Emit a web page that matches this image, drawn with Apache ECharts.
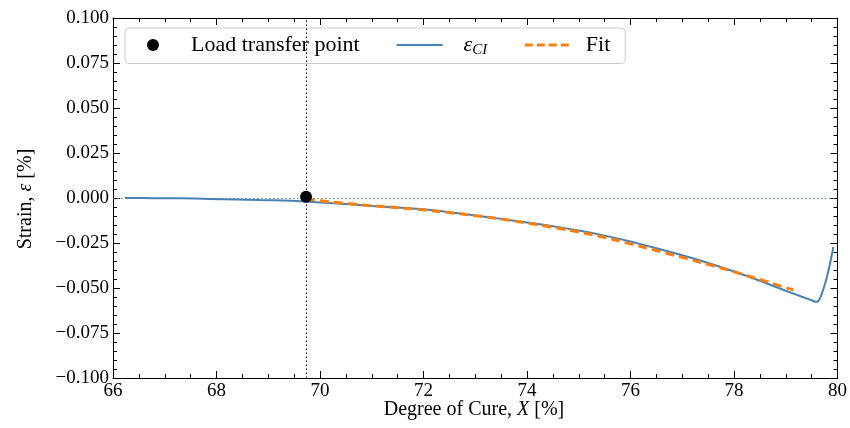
<!DOCTYPE html>
<html>
<head>
<meta charset="utf-8">
<script src="https://cdn.jsdelivr.net/npm/echarts@6/dist/echarts.min.js"></script>
<style>
  html, body { margin: 0; padding: 0; background: #fff; }
  #chart { width: 850px; height: 428px; }
</style>
</head>
<body>
<div id="chart"></div>
<script>
// Measured strain ε_CI against degree of cure X (%)
const cureX = [66.23, 66.8, 67.3, 67.87, 68.4, 68.84, 69.3, 69.61, 70.0, 70.5, 71.0, 71.5, 72.0, 72.5, 73.0, 73.5, 74.0, 74.5, 75.0, 75.5, 76.0, 76.5, 77.0, 77.5, 78.0, 78.5, 79.0, 79.3, 79.5, 79.58, 79.63, 79.67, 79.72, 79.78, 79.85, 79.92];
const strainCI = [0.0, -0.0001, -0.0002, -0.0005, -0.0008, -0.0011, -0.0014, -0.0018, -0.0025, -0.0034, -0.0044, -0.0053, -0.0063, -0.0079, -0.0097, -0.0116, -0.0136, -0.0157, -0.0181, -0.0209, -0.0242, -0.0279, -0.0318, -0.0361, -0.0408, -0.0460, -0.0515, -0.0547, -0.0568, -0.0577, -0.0572, -0.0552, -0.0512, -0.0456, -0.0372, -0.0272];

// Fitted curve after load transfer
const fitX = [69.73, 70.0, 70.5, 71.0, 71.5, 72.0, 72.5, 73.0, 73.5, 74.0, 74.5, 75.0, 75.5, 76.0, 76.5, 77.0, 77.5, 78.0, 78.5, 79.0, 79.15];
const fitStrain = [-0.0005, -0.0015, -0.0030, -0.0043, -0.0054, -0.0066, -0.0081, -0.0098, -0.0117, -0.0139, -0.0163, -0.0189, -0.0219, -0.0255, -0.0292, -0.0330, -0.0369, -0.0410, -0.0453, -0.0498, -0.0511];

// Load transfer point
const loadX = 69.73;
const loadStrain = 0.0007;

// Axis ranges and tick steps
const xRange = [66, 80];
const xStep = 2;
const yRange = [-0.1, 0.1];
const yStep = 0.025;

const FONT = '"Liberation Serif", "DejaVu Serif", serif';
const BLUE = '#4682b4';
const ORANGE = '#ff7f0e';

function pairs(xs, ys) { return xs.map((x, i) => [x, ys[i]]); }
function fmtY(v) {
  const s = Math.abs(v).toFixed(3);
  return (v < -1e-9 ? '\u2212' : '') + s;
}

function axisCommon(extra) {
  return Object.assign({
    type: 'value',
    splitLine: { show: false },
    axisLine: { show: true, onZero: false, lineStyle: { color: '#000', width: 1 } },
    axisTick: { show: true, inside: true, length: 7, lineStyle: { color: '#000', width: 1 } },
    axisLabel: { color: '#000', fontFamily: FONT, fontSize: 19 }
  }, extra);
}

const chart = echarts.init(document.getElementById('chart'), null, { renderer: 'canvas' });

chart.setOption({
  animation: false,
  backgroundColor: '#fff',
  grid: { left: 113, right: 12, top: 18, bottom: 50, containLabel: false },
  xAxis: [
    axisCommon({
      min: xRange[0], max: xRange[1], interval: xStep, position: 'bottom',
      minorTick: { show: true, splitNumber: 4, length: 4, lineStyle: { color: '#000' } },
      axisLabel: { color: '#000', fontFamily: FONT, fontSize: 19, margin: 4 }
    }),
    axisCommon({
      min: xRange[0], max: xRange[1], interval: xStep, position: 'top',
      minorTick: { show: true, splitNumber: 4, length: 4, lineStyle: { color: '#000' } },
      axisLabel: { show: false }
    })
  ],
  yAxis: [
    axisCommon({
      min: yRange[0], max: yRange[1], interval: yStep, position: 'left',
      minorTick: { show: true, splitNumber: 5, length: 4, lineStyle: { color: '#000' } },
      axisLabel: { color: '#000', fontFamily: FONT, fontSize: 19, margin: 4, formatter: fmtY }
    }),
    axisCommon({
      min: yRange[0], max: yRange[1], interval: yStep, position: 'right',
      minorTick: { show: true, splitNumber: 5, length: 4, lineStyle: { color: '#000' } },
      axisLabel: { show: false }
    })
  ],
  legend: {
    left: 125, top: 28,
    orient: 'horizontal',
    backgroundColor: '#fff',
    borderColor: '#cccccc',
    borderWidth: 1,
    borderRadius: 4,
    padding: [6, 15, 6, 22],
    itemWidth: 46,
    itemHeight: 12,
    itemGap: 36,
    data: [
      { name: 'Load transfer point', icon: 'circle', itemStyle: { color: '#000', opacity: 1 } },
      { name: 'eps', icon: 'line', itemStyle: { color: BLUE, borderColor: BLUE, borderWidth: 2 } },
      { name: 'Fit', icon: 'line', itemStyle: { color: ORANGE, borderColor: ORANGE, borderWidth: 3, borderType: [8, 4] } }
    ],
    formatter: function (name) {
      if (name === 'eps') return '{e|\u03b5}{s|CI}';
      if (name === 'Fit') return '{f|Fit}';
      return '{t|' + name + '}';
    },
    textStyle: {
      color: '#000', fontFamily: FONT, fontSize: 22,
      rich: {
        t: { fontFamily: FONT, fontSize: 22, color: '#000', padding: [0, 0, 0, 10] },
        f: { fontFamily: FONT, fontSize: 22, color: '#000', padding: [0, 0, 0, 10] },
        e: { fontFamily: FONT, fontSize: 22, fontStyle: 'italic', color: '#000', padding: [0, 0, 0, 16] },
        s: { fontFamily: FONT, fontSize: 15, fontStyle: 'italic', color: '#000', padding: [10, 6, 0, 0] }
      }
    }
  },
  series: [
    {
      name: 'eps', type: 'line', data: pairs(cureX, strainCI),
      showSymbol: false, symbol: 'none', smooth: 0.2,
      lineStyle: { color: BLUE, width: 2 }, itemStyle: { color: BLUE }, z: 3
    },
    {
      name: 'Fit', type: 'line', data: pairs(fitX, fitStrain),
      showSymbol: false, symbol: 'none', smooth: true,
      lineStyle: { color: ORANGE, width: 3, type: [9, 5] }, itemStyle: { color: ORANGE }, z: 4
    },
    {
      name: 'Load transfer point', type: 'scatter', data: [[loadX, loadStrain]],
      symbol: 'circle', symbolSize: 12, itemStyle: { color: '#000', opacity: 1 }, z: 6,
      markLine: {
        silent: true, symbol: 'none', animation: false,
        label: { show: false },
        data: [
          { xAxis: loadX, lineStyle: { color: '#000', type: [1.5, 2.5], width: 1 } },
          { yAxis: 0, lineStyle: { color: BLUE, type: [1.5, 2.5], width: 1 } }
        ]
      }
    }
  ],
  graphic: [
    {
      type: 'text', x: 474, y: 410,
      style: {
        text: '{n|Degree of Cure, }{i|X}{n| [%]}',
        align: 'center', verticalAlign: 'middle',
        rich: {
          n: { fontFamily: FONT, fontSize: 20, fill: '#000' },
          i: { fontFamily: FONT, fontSize: 20, fontStyle: 'italic', fill: '#000' }
        }
      }
    },
    {
      type: 'text', x: 26, y: 199, rotation: Math.PI / 2,
      style: {
        text: '{n|Strain, }{i|\u03b5}{n| [%]}',
        align: 'center', verticalAlign: 'middle',
        rich: {
          n: { fontFamily: FONT, fontSize: 20, fill: '#000' },
          i: { fontFamily: FONT, fontSize: 20, fontStyle: 'italic', fill: '#000' }
        }
      }
    }
  ]
});
</script>
</body>
</html>
